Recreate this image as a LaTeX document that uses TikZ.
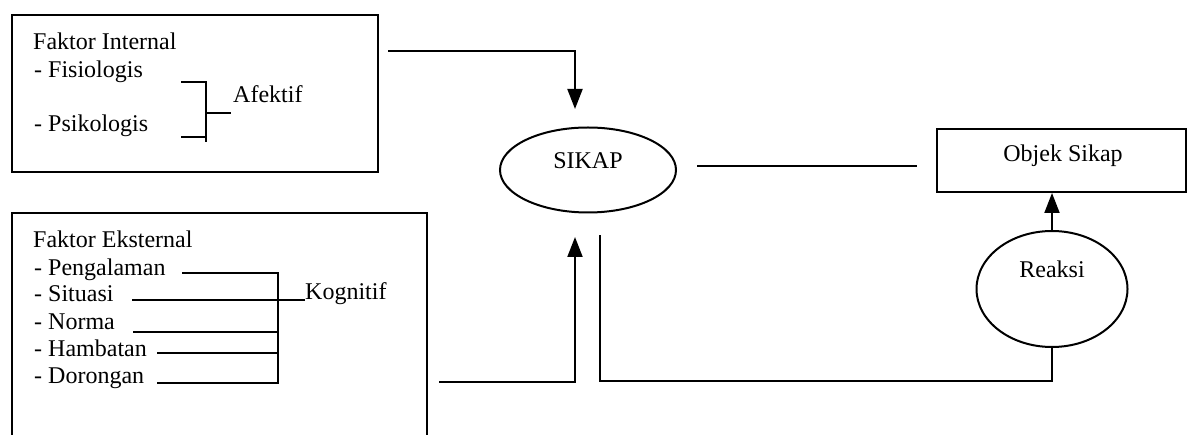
\documentclass[tikz,border=0pt]{standalone}
\usepackage{fontspec}
\setmainfont{Liberation Serif}
\usetikzlibrary{shapes.geometric,arrows.meta}
\begin{document}
\begin{tikzpicture}[x=1pt,y=-1pt,
  every node/.style={font=\fontsize{24}{28}\selectfont},
  ln/.style={line width=2pt},
  arr/.style={line width=2pt,-{Triangle[length=20pt,width=15pt]}},
  txt/.style={anchor=base west,inner sep=0pt},
  ctxt/.style={anchor=base,inner sep=0pt},
  shp/.style={draw,line width=2pt,inner sep=0pt}]
\useasboundingbox (0,0) rectangle (1187,435);
\clip (0,0) rectangle (1187,435);
% boxes
\node[shp,rectangle,minimum width=366pt,minimum height=157pt] (internal) at (195,93.5) {};
\node[shp,rectangle,minimum width=415pt,minimum height=260pt] (eksternal) at (219.5,343) {};
\node[shp,ellipse,minimum width=176pt,minimum height=85pt] (sikap) at (588,170) {};
\node[shp,rectangle,minimum width=249pt,minimum height=63pt] (objek) at (1061.5,160.5) {};
\node[shp,ellipse,minimum width=151pt,minimum height=116pt] (reaksi) at (1052,289) {};
% texts
\node[txt] (ti) at (33,50) {Faktor Internal};
\node[txt] (fis) at (34,78) {- Fisiologis};
\node[txt] (psi) at (34,132) {- Psikologis};
\node[txt] (afe) at (233,103) {Afektif};
\node[txt] (te) at (33,248) {Faktor Eksternal};
\node[txt] (pen) at (34,276) {- Pengalaman};
\node[txt] (sit) at (34,302) {- Situasi};
\node[txt] (nor) at (34,330) {- Norma};
\node[txt] (ham) at (34,357) {- Hambatan};
\node[txt] (dor) at (34,384) {- Dorongan};
\node[txt] (kog) at (305,300) {Kognitif};
\node[ctxt] (tsikap) at (588,169) {SIKAP};
\node[ctxt] (tobjek) at (1063,162) {Objek Sikap};
\node[ctxt] (treaksi) at (1052,278) {Reaksi};
% Afektif bracket
\coordinate (a1) at (181,82); \coordinate (a2) at (206,82);
\coordinate (a3) at (181,137); \coordinate (a4) at (206,137);
\coordinate (a5) at (206,142); \coordinate (a6) at (206,113);
\coordinate (a7) at (231,113);
\draw[ln] (a1) -- (a2) -- (a5);
\draw[ln] (a3) -- (a4);
\draw[ln] (a6) -- (a7);
% Kognitif bracket
\coordinate (k0) at (278,273); \coordinate (k9) at (278,383);
\draw[ln] (182,273) -- (k0) -- (k9) -- (157,383);
\draw[ln] (132,300) -- (kog.base west |- 0,300);
\draw[ln] (133,332) -- (278,332);
\draw[ln] (157,353) -- (278,353);
% connectors
\coordinate (i0) at (388,51);
\coordinate (i1) at (575,51);
\coordinate (i2) at (575,109);
\draw[arr] (i0) -- (i1) -- (i2);
\coordinate (e0) at (439,382);
\coordinate (e1) at (575,382);
\coordinate (e2) at (575,237);
\draw[arr] (e0) -- (e1) -- (e2);
\coordinate (s0) at (697,166);
\coordinate (s1) at (917,166);
\draw[ln] (s0) -- (s1);
\draw[arr] (reaksi.north) -- (reaksi.north |- objek.south);
\coordinate (r1) at (1052,381);
\coordinate (r2) at (600,381);
\coordinate (r3) at (600,235);
\draw[ln] (reaksi.south) -- (r1) -- (r2) -- (r3);
\end{tikzpicture}
\end{document}
